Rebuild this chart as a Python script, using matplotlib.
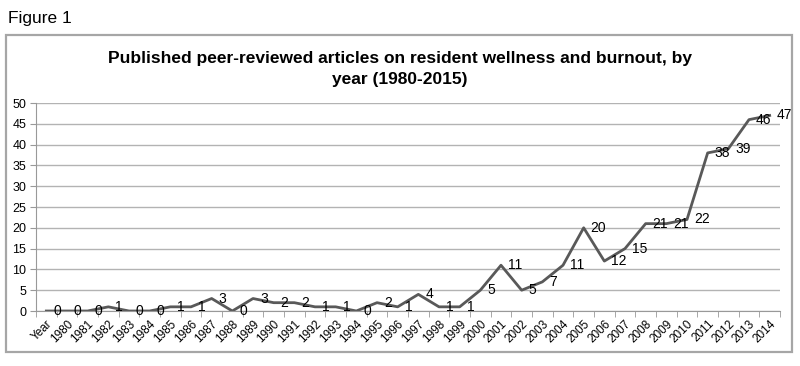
import numpy as np
import matplotlib.pyplot as plt
from matplotlib.patches import Rectangle

plt.rcParams['font.family'] = ['Liberation Sans', 'DejaVu Sans']

# categories as they appear on the axis (first one is the stray "Year" header)
categories = ['Year'] + [str(y) for y in range(1980, 2015)]
# article counts, 1980-2015 (plotted one slot left, as in the original sheet)
counts = [0, 0, 0, 1, 0, 0, 1, 1, 3, 0, 3, 2, 2, 1, 1, 0, 2, 1, 4, 1,
          1, 5, 11, 5, 7, 11, 20, 12, 15, 21, 21, 22, 38, 39, 46, 47]
yticks = list(range(0, 55, 5))

fig = plt.figure(figsize=(8, 3.66), dpi=100)

# outer chart frame
fig.patches.append(Rectangle((6 / 800, 1 - 352 / 366), 786 / 800, 317 / 366,
                             transform=fig.transFigure, fill=False,
                             edgecolor='#a6a6a6', lw=1.6))
fig.text(8 / 800, 1 - 18 / 366, 'Figure 1', fontsize=12.5, va='center', ha='left')
fig.text(0.5, 1 - 69 / 366,
         'Published peer-reviewed articles on resident wellness and burnout, by\nyear (1980-2015)',
         fontsize=12.5, fontweight='bold', ha='center', va='center', linespacing=1.5)

ax = fig.add_axes([36 / 800, 1 - 311 / 366, 744 / 800, 208 / 366])
x = np.arange(len(categories))
ax.plot(x, counts, color='#595959', lw=2)

for xi, v in zip(x, counts):
    ax.annotate(str(v), (xi, v), xytext=(5, 0), textcoords='offset points',
                ha='left', va='center', fontsize=10)

ax.set_xlim(-0.5, len(categories) - 0.5)
ax.set_ylim(0, 50)
ax.set_yticks(yticks)
ax.set_xticks(x)
ax.set_xticklabels(categories, rotation=45, ha='right', rotation_mode='anchor', fontsize=8.5)
ax.set_xticks(np.arange(-0.5, len(categories)), minor=True)
ax.tick_params(axis='x', which='major', length=0, pad=5)
ax.tick_params(axis='x', which='minor', length=4, color='#999999')
ax.tick_params(axis='y', length=4, color='#999999', labelsize=9, pad=3)

ax.yaxis.grid(True, color='#b3b3b3', lw=1)
ax.set_axisbelow(True)
for side in ['top', 'right']:
    ax.spines[side].set_visible(False)
for side in ['left', 'bottom']:
    ax.spines[side].set_color('#999999')

fig.savefig('out.png', dpi=100)
